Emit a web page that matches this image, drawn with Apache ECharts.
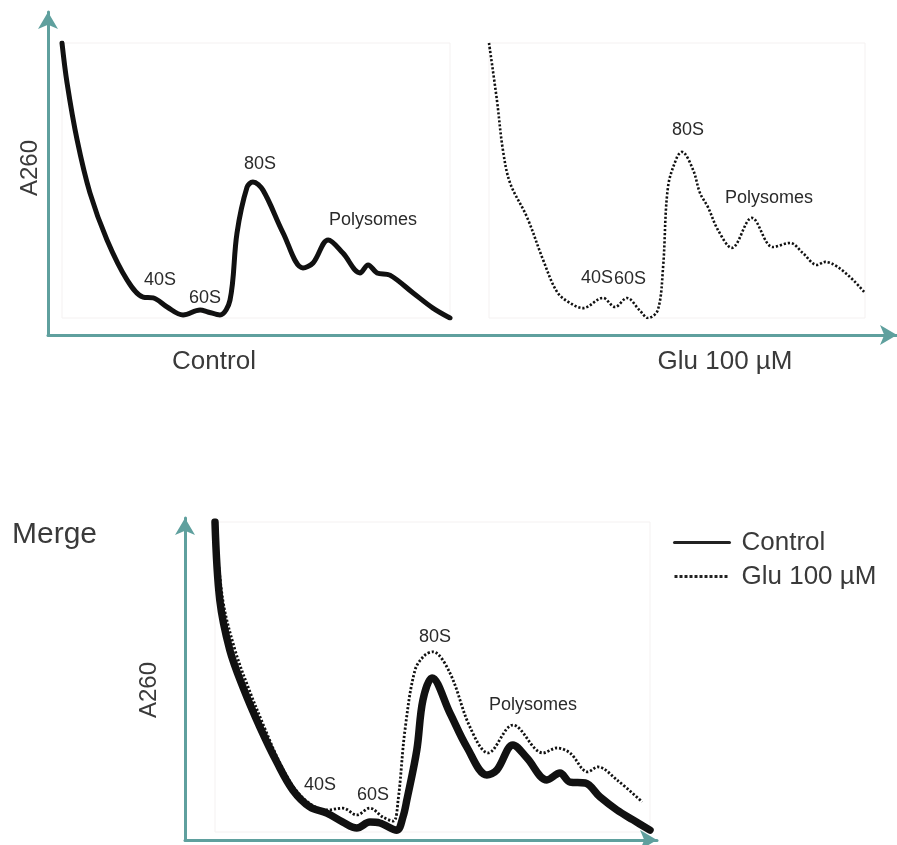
<!DOCTYPE html>
<html>
<head>
<meta charset="utf-8">
<script src="https://cdn.jsdelivr.net/npm/echarts@6/dist/echarts.min.js"></script>
<style>
  html, body { margin: 0; padding: 0; background: #ffffff; }
  #chart { width: 897px; height: 845px; }
</style>
</head>
<body>
<div id="chart"></div>
<script>
// Sucrose-gradient polysome profiles: elution position (0-100) vs relative A260 (0-100)
const seriesNames = ['Control', 'Glu 100 µM'];
const panelTitles = ['Control', 'Glu 100 µM', 'Merge'];
const axisTitle = 'A260';
const peakNames = ['40S', '60S', '80S', 'Polysomes'];

const controlTop = [
  [0, 100], [1.3, 85.5], [3.9, 64.7], [7.2, 45.5], [11.6, 28.4], [16.8, 13.8],
  [20.9, 7.6], [23.5, 7.3], [27.1, 4.0], [31.2, 1.1], [35.6, 2.9], [37.6, 2.2],
  [40.7, 1.1], [43.3, 6.5], [45.1, 30.9], [47.7, 47.6], [49.2, 49.5], [51.8, 46.5],
  [57.0, 30.9], [62.1, 18.2], [64.7, 20.0], [68.6, 28.4], [72.4, 23.6], [76.8, 16.4],
  [78.9, 19.3], [81.2, 16.4], [84.5, 15.6], [90.5, 9.1], [95.6, 3.6], [100, 0]
];

const gluTop = [
  [0, 100], [2.1, 79.3], [3.7, 61.1], [5.6, 49.1], [10.1, 36.7], [14.4, 21.1],
  [18.1, 9.5], [21.5, 5.5], [25.0, 3.6], [30.3, 7.3], [33.5, 4.0], [36.7, 7.3],
  [40.0, 2.9], [42.3, 0], [44.9, 2.9], [46.3, 18.5], [47.6, 47.6], [50.0, 58.5],
  [51.3, 60.4], [54.3, 53.8], [56.1, 45.5], [58.2, 40.4], [60.9, 32.0], [64.6, 25.5],
  [69.9, 36.4], [75.5, 25.8], [80.1, 27.3], [83.5, 23.6], [87.2, 19.3], [89.4, 20.4],
  [100, 9.1]
];

const controlMerge = [
  [0, 100], [1.1, 74.8], [3.4, 58.7], [6.4, 46.8], [10.3, 33.9], [14.3, 22.3],
  [17.9, 13.5], [21.8, 8.1], [25.7, 6.1], [29.4, 3.2], [32.6, 1.3], [35.6, 3.2],
  [37.9, 2.9], [41.8, 0.6], [43.2, 4.8], [44.1, 10.3], [46.4, 26.5], [47.8, 42.6],
  [49.9, 49.7], [54.0, 38.4], [57.9, 27.4], [62.5, 18.4], [64.8, 20.0], [68.5, 28.1],
  [71.7, 23.9], [76.3, 16.8], [79.3, 19.0], [81.6, 16.1], [85.1, 15.8], [88.5, 11.3],
  [92.4, 7.1], [96.1, 3.9], [100, 0.6]
];

const gluMerge = [
  [0, 100], [1.8, 74.8], [4.6, 58.7], [7.6, 46.8], [11.3, 33.9], [14.9, 22.3],
  [18.6, 13.5], [22.3, 8.7], [25.7, 7.1], [29.4, 7.7], [32.6, 5.5], [35.6, 7.7],
  [38.6, 4.8], [41.0, 3.5], [42.1, 10.3], [43.7, 33.2], [46.0, 52.3], [48.3, 57.1],
  [50.1, 58.1], [54.0, 51.3], [58.6, 33.9], [62.8, 25.5], [68.5, 34.5], [75.4, 25.5],
  [78.6, 27.1], [81.6, 25.5], [85.7, 19.4], [88.0, 21.0], [92.4, 16.8], [98.2, 9.7]
];

const FONT = '"Liberation Sans", Arial, sans-serif';
const TEAL = '#5fa09e';
const INK = '#111111';
const TEXT = '#3a3a3a';
const PEAK_TEXT = '#2a2a2a';

const chart = echarts.init(document.getElementById('chart'), null, { renderer: 'canvas' });

// Teal L-shaped frame axes with arrow heads
function frameAxis(gridIndex) {
  return {
    type: 'value', gridIndex: gridIndex, min: 0, max: 1,
    axisLine: {
      show: true, onZero: false,
      symbol: ['none', 'arrow'], symbolSize: [15, 17],
      lineStyle: { color: TEAL, width: 3 }
    },
    axisTick: { show: false }, axisLabel: { show: false }, splitLine: { show: false }
  };
}
// Hidden data axes for each profile panel
function dataAxis(gridIndex) {
  return {
    type: 'value', gridIndex: gridIndex, min: 0, max: 100,
    axisLine: { show: false }, axisTick: { show: false },
    axisLabel: { show: false }, splitLine: { show: false }
  };
}

const panelBox = { show: true, borderColor: '#f4f1f1', borderWidth: 1, backgroundColor: 'transparent' };

function profile(name, data, idx, solid, width) {
  return {
    name: name, type: 'line', xAxisIndex: idx, yAxisIndex: idx,
    data: data, smooth: 0.35, symbol: 'none', silent: true,
    itemStyle: { color: INK },
    lineStyle: solid
      ? { color: INK, width: width, cap: 'round', join: 'round' }
      : { color: INK, width: width, type: [2.2, 1.9] },
    z: solid ? 3 : 4
  };
}

function label(text, x, y, size, color, extra) {
  return Object.assign({
    type: 'text', x: x, y: y,
    style: { text: text, fill: color, font: size + 'px ' + FONT, textAlign: 'center', textVerticalAlign: 'middle' }
  }, extra || {});
}

const option = {
  backgroundColor: '#ffffff',
  animation: false,
  grid: [
    { left: 48, top: 12, width: 849, height: 323 },                 // top frame
    { left: 185, top: 518, width: 472, height: 322 },               // bottom frame
    Object.assign({ left: 62, top: 43, width: 388, height: 275 }, panelBox),   // control
    Object.assign({ left: 489, top: 43, width: 376, height: 275 }, panelBox),  // glutamate
    Object.assign({ left: 215, top: 522, width: 435, height: 310 }, panelBox)  // merge
  ],
  xAxis: [frameAxis(0), frameAxis(1), dataAxis(2), dataAxis(3), dataAxis(4)],
  yAxis: [frameAxis(0), frameAxis(1), dataAxis(2), dataAxis(3), dataAxis(4)],
  legend: {
    orient: 'vertical', left: 668, top: 523,
    itemWidth: 55, itemHeight: 14, itemGap: 5,
    selectedMode: false,
    itemStyle: { opacity: 0 },
    textStyle: { fontFamily: FONT, fontSize: 26, color: TEXT, lineHeight: 29, padding: [0, 0, 0, 7] },
    data: [
      { name: seriesNames[0], lineStyle: { width: 3, type: 'solid', color: '#222' } },
      { name: seriesNames[1], lineStyle: { width: 3, type: [3, 2], color: '#222' } }
    ]
  },
  series: [
    profile(seriesNames[0], controlTop, 2, true, 5),
    profile(seriesNames[1], gluTop, 3, false, 2.6),
    profile(seriesNames[0], controlMerge, 4, true, 7.5),
    profile(seriesNames[1], gluMerge, 4, false, 2.8)
  ],
  graphic: [
    // axis titles
    label(axisTitle, 30, 168, 24, TEXT, { rotation: Math.PI / 2 }),
    label(axisTitle, 149, 690, 24, TEXT, { rotation: Math.PI / 2 }),
    label(panelTitles[0], 214, 362, 26, TEXT),
    label(panelTitles[1], 725, 362, 26, TEXT),
    {
      type: 'text', x: 12, y: 535,
      style: { text: panelTitles[2], fill: TEXT, font: '30px ' + FONT, textAlign: 'left', textVerticalAlign: 'middle' }
    },
    // peak annotations, control panel
    label(peakNames[0], 160, 280, 18, PEAK_TEXT),
    label(peakNames[1], 205, 298, 18, PEAK_TEXT),
    label(peakNames[2], 260, 164, 18, PEAK_TEXT),
    label(peakNames[3], 373, 220, 18, PEAK_TEXT),
    // peak annotations, glutamate panel
    label(peakNames[0], 597, 278, 18, PEAK_TEXT),
    label(peakNames[1], 630, 279, 18, PEAK_TEXT),
    label(peakNames[2], 688, 130, 18, PEAK_TEXT),
    label(peakNames[3], 769, 198, 18, PEAK_TEXT),
    // peak annotations, merge panel
    label(peakNames[0], 320, 785, 18, PEAK_TEXT),
    label(peakNames[1], 373, 795, 18, PEAK_TEXT),
    label(peakNames[2], 435, 637, 18, PEAK_TEXT),
    label(peakNames[3], 533, 705, 18, PEAK_TEXT)
  ]
};

chart.setOption(option);
</script>
</body>
</html>
